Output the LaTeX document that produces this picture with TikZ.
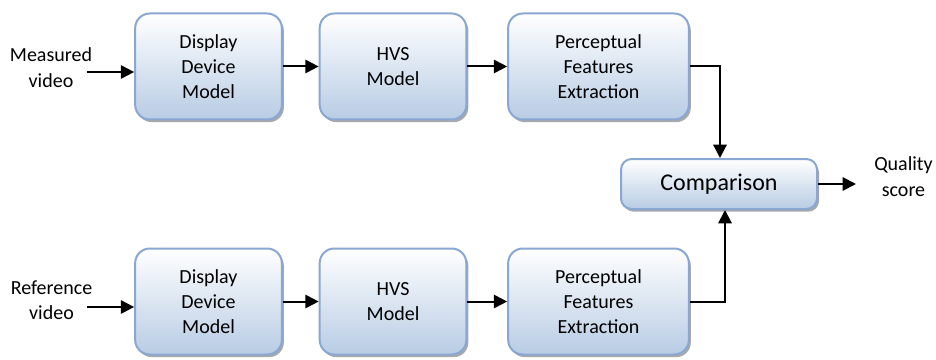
\documentclass[tikz,border=0pt]{standalone}
\usepackage{fontspec}
\setmainfont{Carlito}
\usetikzlibrary{arrows.meta,shadows}

\definecolor{boxline}{RGB}{137,167,211}
\definecolor{boxbottom}{RGB}{184,204,228}
\definecolor{shadowgray}{RGB}{140,140,140}

\tikzset{
  block/.style={rectangle, rounded corners=11pt, draw=boxline, line width=1.5pt,
    top color=white, bottom color=boxbottom, align=center,
    minimum width=110pt, minimum height=79.5pt,
    font=\fontsize{15}{19}\selectfont,
    drop shadow={shadow xshift=1.5pt, shadow yshift=-2pt, fill=shadowgray, opacity=0.75}},
  wideblock/.style={block, minimum width=135.5pt},
  cmpblock/.style={block, rounded corners=8pt, minimum width=147pt, minimum height=37.5pt,
    font=\fontsize{18}{22}\selectfont},
  label/.style={align=center, font=\fontsize{15}{19}\selectfont, inner sep=0pt},
  arr/.style={line width=1.5pt, -{Triangle[length=10pt,width=10pt]}}
}

\begin{document}
\begin{tikzpicture}[x=0.75pt,y=-0.75pt]
\useasboundingbox (0,0) rectangle (936,360);

% measured branch
\node[block]     (dm) at (208.5,66.5) {Display\\Device\\Model};
\node[block]     (hm) at (393,66.5)   {HVS\\Model};
\node[wideblock] (pm) at (598.5,66.5) {Perceptual\\Features\\Extraction};

% reference branch
\node[block]     (dr) at (208.5,301.5) {Display\\Device\\Model};
\node[block]     (hr) at (393,301.5)   {HVS\\Model};
\node[wideblock] (pr) at (598.5,301.5) {Perceptual\\Features\\Extraction};

% comparison stage
\node[cmpblock] (cmp) at (719,184) {Comparison};

% inputs and output
\node[label] (inm) at (51,67.5)  {Measured\\video};
\node[label] (inr) at (51.5,300.5) {Reference\\video};
\node[label] (out) at (903.5,176.5) {Quality\\score};

\coordinate (sm) at (87,72);
\coordinate (sr) at (87,307);
\coordinate (so) at (856,184);

\draw[arr] (sm) -- (sm -| dm.west);
\draw[arr] (sr) -- (sr -| dr.west);
\draw[arr] (dm) -- (hm);
\draw[arr] (hm) -- (pm);
\draw[arr] (dr) -- (hr);
\draw[arr] (hr) -- (pr);
\draw[arr] (pm.east) -| ([xshift=0.75pt]cmp.north);
\draw[arr] (pr.east) -| ([xshift=4.5pt]cmp.south);
\draw[arr] (cmp.east) -- (so);
\end{tikzpicture}
\end{document}
